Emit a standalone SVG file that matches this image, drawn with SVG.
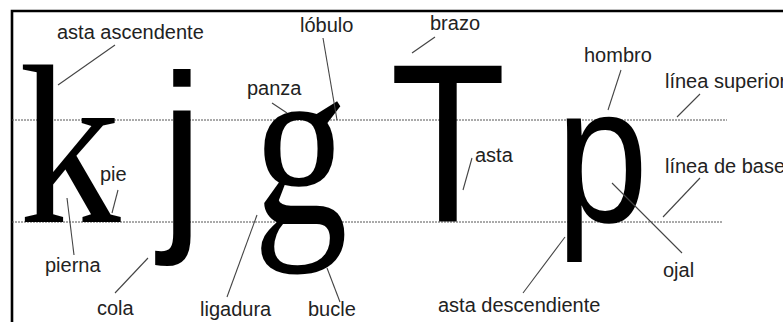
<svg xmlns="http://www.w3.org/2000/svg" width="783" height="322" viewBox="0 0 783 322">
<style>
.lbl{font-family:"Liberation Sans",Arial,sans-serif;font-size:20px;fill:#222}
.ld{stroke:#444;stroke-width:1.1;fill:none}
.dot{stroke:#555;stroke-width:1;stroke-dasharray:2 1;fill:none}
.serif{font-family:"Liberation Serif","Times New Roman",serif;fill:#000}
.sans{font-family:"Liberation Sans",Arial,sans-serif;fill:#000}
</style>
<rect width="783" height="322" fill="#fff"/>
<path d="M12 322 V11 H783" stroke="#000" stroke-width="2.6" fill="none"/>
<g id="guides">
<line class="dot" x1="12" y1="120" x2="727" y2="120"/>
<line class="dot" x1="12" y1="222" x2="723" y2="222"/>
</g>
<g id="letter-k"><text class="serif" transform="translate(19,222) scale(0.9,1)" font-size="226">k</text></g>
<g id="letter-j"><text class="sans" transform="translate(160,222) scale(0.95,1.02)" font-size="208">j</text></g>
<g id="letter-g"><text class="serif" transform="translate(253,223) scale(0.84,1.05)" font-size="226">g</text></g>
<g id="letter-T"><text class="sans" transform="translate(390,222) scale(0.84,1)" font-size="226">T</text></g>
<g id="letter-p"><text class="sans" transform="translate(556,222) scale(0.85,1)" font-size="195">p</text></g>
<g id="connectors">
<line class="ld" x1="115" y1="45" x2="58" y2="85"/>
<line class="ld" x1="118" y1="190" x2="112" y2="213"/>
<line class="ld" x1="67" y1="198" x2="74" y2="255"/>
<line class="ld" x1="148" y1="258" x2="115" y2="293"/>
<line class="ld" x1="257" y1="215" x2="227" y2="297"/>
<line class="ld" x1="327" y1="268" x2="340" y2="302"/>
<line class="ld" x1="323" y1="38" x2="337" y2="120"/>
<line class="ld" x1="272" y1="103" x2="287" y2="113"/>
<line class="ld" x1="435" y1="37" x2="412" y2="53"/>
<line class="ld" x1="472" y1="158" x2="463" y2="190"/>
<line class="ld" x1="565" y1="237" x2="523" y2="293"/>
<line class="ld" x1="621" y1="70" x2="608" y2="110"/>
<line class="ld" x1="700" y1="94" x2="677" y2="117"/>
<line class="ld" x1="700" y1="178" x2="663" y2="217"/>
<line class="ld" x1="612" y1="183" x2="682" y2="253"/>
</g>
<g id="labels">
<text class="lbl" x="57" y="39">asta ascendente</text>
<text class="lbl" x="100" y="181">pie</text>
<text class="lbl" x="45" y="272">pierna</text>
<text class="lbl" x="97" y="315">cola</text>
<text class="lbl" x="200" y="316">ligadura</text>
<text class="lbl" x="308" y="316">bucle</text>
<text class="lbl" x="300" y="32">lóbulo</text>
<text class="lbl" x="247" y="95">panza</text>
<text class="lbl" x="430" y="30">brazo</text>
<text class="lbl" x="475" y="162">asta</text>
<text class="lbl" x="438" y="312">asta descendiente</text>
<text class="lbl" x="584" y="62">hombro</text>
<text class="lbl" x="665" y="88">línea superior</text>
<text class="lbl" x="665" y="173">línea de base</text>
<text class="lbl" x="663" y="277">ojal</text>
</g>
</svg>
